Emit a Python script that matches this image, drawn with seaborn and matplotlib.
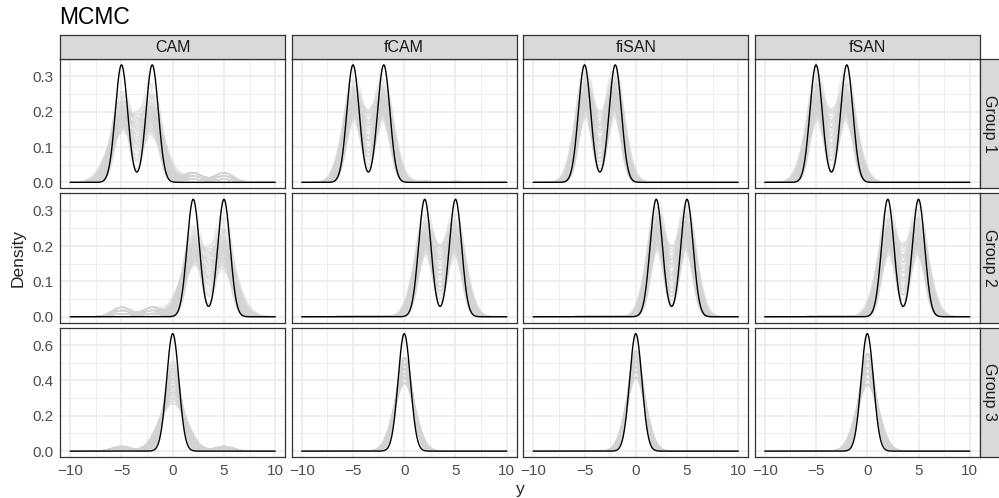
import numpy as np
import pandas as pd
import matplotlib
matplotlib.use("Agg")
import matplotlib.pyplot as plt
import seaborn as sns
from matplotlib.ticker import AutoMinorLocator, FormatStrFormatter, MultipleLocator

sns.set_style("white")
plt.rcParams['font.family'] = ['Liberation Sans', 'DejaVu Sans']

# ---- data ----
methods = ["CAM", "fCAM", "fiSAN", "fSAN"]
groups = ["Group 1", "Group 2", "Group 3"]

# true mixture (black line): equal-weight normals
true_means = {"Group 1": [-5, -2], "Group 2": [2, 5], "Group 3": [0]}
true_sd = 0.6

# posterior draws (grey lines): component sd, inner shift, weight of first comp
draw_sd = {
    "CAM":   [0.75, 0.85, 0.95, 1.05, 1.15, 1.3],
    "fCAM":  [0.75, 0.8, 0.85, 0.9, 0.95, 1.02],
    "fiSAN": [0.7, 0.74, 0.78, 0.83, 0.88, 0.95],
    "fSAN":  [0.72, 0.78, 0.84, 0.9, 0.97, 1.05],
}
draw_shift = [-0.2, 0.0, 0.2, 0.35]
draw_w1 = [0.45, 0.5, 0.55]
# mass leaking to other groups' atoms (the small bumps, mostly CAM)
leak = {"CAM": 0.08, "fCAM": 0.008, "fiSAN": 0.004, "fSAN": 0.004}
leak_means = {"Group 1": [2, 5], "Group 2": [-5, -2], "Group 3": [-5, 5]}
leak_sd = 0.9

x_grid = np.linspace(-10, 10, 401)


def npdf(x, m, s):
    return np.exp(-0.5 * ((x - m) / s) ** 2) / (s * np.sqrt(2 * np.pi))


def mixture(x, means, weights, sd):
    return sum(w * npdf(x, m, sd) for m, w in zip(means, weights))


rows = []
for g in groups:
    mu = true_means[g]
    for meth in methods:
        k = 0
        for s in draw_sd[meth]:
            for sh in draw_shift:
                for w1 in draw_w1:
                    if len(mu) == 2:
                        means = [mu[0] + sh, mu[1] - sh]
                        weights = [w1, 1 - w1]
                    else:
                        means = [mu[0] + sh * 0.3]
                        weights = [1.0]
                    lk = leak[meth] * (0.5 + (w1 - 0.45) * 10)
                    dens = (1 - lk) * mixture(x_grid, means, weights, s)
                    dens += mixture(x_grid, leak_means[g], [lk / 2, lk / 2], leak_sd)
                    rows.append(pd.DataFrame({"group": g, "method": meth, "draw": k,
                                              "y": x_grid, "density": dens}))
                    k += 1
draws = pd.concat(rows, ignore_index=True)

truth = pd.concat([pd.DataFrame({"group": g, "y": x_grid,
                                 "density": mixture(x_grid, true_means[g],
                                                    [1 / len(true_means[g])] * len(true_means[g]),
                                                    true_sd)})
                   for g in groups], ignore_index=True)

# ---- plot ----
fig, axes = plt.subplots(3, 4, figsize=(9.99, 4.98), dpi=100, sharex=True, sharey='row')
fig.subplots_adjust(left=60 / 999, right=980 / 999, top=1 - 59 / 498,
                    bottom=1 - 457 / 498, wspace=0.027, hspace=0.04)

for i, g in enumerate(groups):
    for j, meth in enumerate(methods):
        ax = axes[i, j]
        sub = draws[(draws.group == g) & (draws.method == meth)]
        sns.lineplot(data=sub, x="y", y="density", units="draw", estimator=None,
                     color="#d3d3d3", alpha=0.35, lw=0.8, ax=ax, legend=False)
        sns.lineplot(data=truth[truth.group == g], x="y", y="density",
                     color="black", lw=1.0, ax=ax, legend=False)
        ax.set_xlabel("")
        ax.set_ylabel("")
        ax.set_axisbelow(True)
        ax.xaxis.set_major_locator(MultipleLocator(5))
        ax.xaxis.set_minor_locator(AutoMinorLocator(2))
        ax.yaxis.set_major_locator(MultipleLocator(0.2 if g == "Group 3" else 0.1))
        ax.yaxis.set_minor_locator(AutoMinorLocator(2))
        ax.yaxis.set_major_formatter(FormatStrFormatter('%.1f'))
        ax.grid(which='major', color='#EBEBEB', lw=1.1)
        ax.grid(which='minor', color='#EBEBEB', lw=0.55)
        ax.tick_params(which='major', direction='out', length=3, width=0.8,
                       color='#333333', labelcolor='#4D4D4D', labelsize=11, pad=2)
        ax.tick_params(which='minor', length=0)
        for sp in ax.spines.values():
            sp.set_color('#333333')
            sp.set_linewidth(0.9)

for ax in axes[2]:
    ax.set_xlim(-11, 11)
for i in range(3):
    top = max(truth[truth.group == groups[i]].density)
    axes[i, 0].set_ylim(-0.05 * top, 1.05 * top)

# strips
W, H = 999, 498
for j, meth in enumerate(methods):
    pos = axes[0, j].get_position()
    sax = fig.add_axes([pos.x0, pos.y1, pos.width, 24 / H])
    sax.set_facecolor('#D9D9D9')
    sax.set_xticks([]); sax.set_yticks([])
    for sp in sax.spines.values():
        sp.set_color('#333333'); sp.set_linewidth(0.9)
    sax.text(0.5, 0.48, meth, ha='center', va='center', fontsize=11.5, color='#1A1A1A',
             transform=sax.transAxes)
for i, g in enumerate(groups):
    pos = axes[i, 3].get_position()
    sax = fig.add_axes([pos.x1, pos.y0, 21 / W, pos.height])
    sax.set_facecolor('#D9D9D9')
    sax.set_xticks([]); sax.set_yticks([])
    for sp in sax.spines.values():
        sp.set_color('#333333'); sp.set_linewidth(0.9)
    sax.text(0.45, 0.5, g, ha='center', va='center', fontsize=11.5, color='#1A1A1A',
             rotation=-90, transform=sax.transAxes)

fig.text(59 / W, 1 - 18 / H, "MCMC", fontsize=16.5, ha='left', va='center', color='black')
fig.text(18 / W, 1 - 258 / H, "Density", fontsize=12.5, rotation=90, ha='center', va='center')
fig.text(520 / W, 1 - 489 / H, "y", fontsize=12.5, ha='center', va='center')

fig.savefig("out.png", dpi=100)
